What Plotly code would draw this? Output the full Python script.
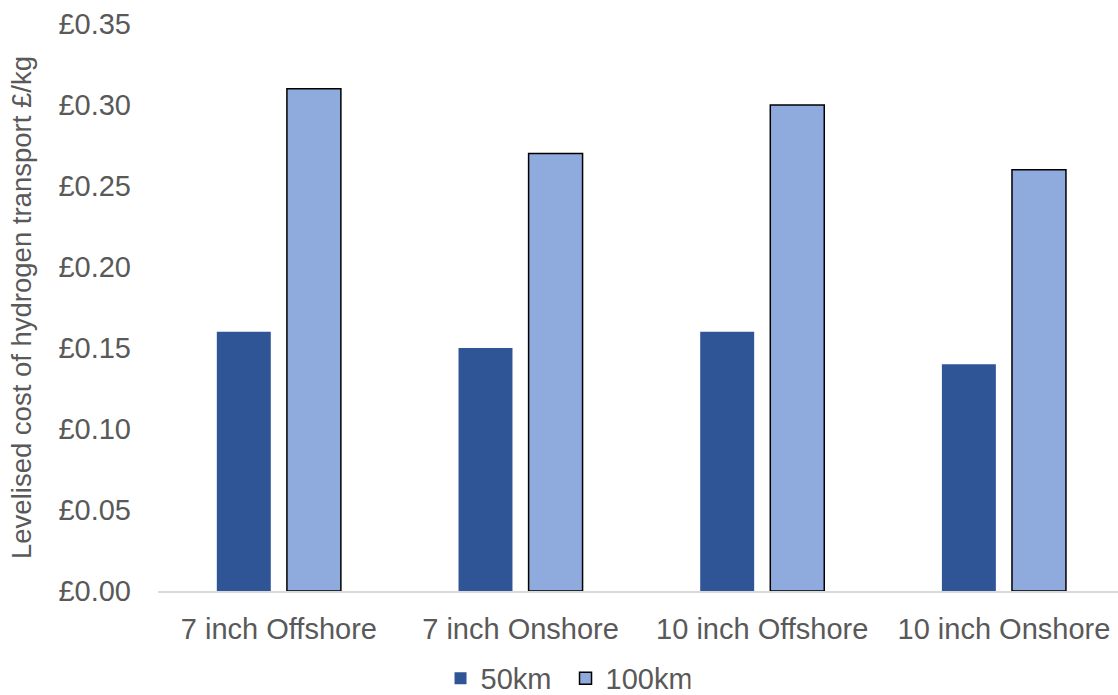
import plotly.graph_objects as go

categories = ["7 inch Offshore", "7 inch Onshore", "10 inch Offshore", "10 inch Onshore"]
series_names = ["50km", "100km"]
values_50km = [0.16, 0.15, 0.16, 0.14]
values_100km = [0.31, 0.27, 0.30, 0.26]
y_tick_vals = [0.00, 0.05, 0.10, 0.15, 0.20, 0.25, 0.30, 0.35]
y_tick_text = ["£0.00", "£0.05", "£0.10", "£0.15", "£0.20", "£0.25", "£0.30", "£0.35"]
y_title = "Levelised cost of hydrogen transport £/kg"

FONT = "Liberation Sans, Arial, sans-serif"
GRAY = "#595959"
FS = 29

fig = go.Figure()
fig.add_trace(go.Bar(
    x=categories, y=values_50km, name=series_names[0],
    marker=dict(color="#2F5597", line=dict(color="#2F5597", width=0)),
))
fig.add_trace(go.Bar(
    x=categories, y=values_100km, name=series_names[1],
    marker=dict(color="#8FAADC", line=dict(color="#000000", width=1.5)),
))

fig.update_layout(
    width=1118, height=695,
    margin=dict(l=158, r=0, t=24, b=104, autoexpand=False),
    paper_bgcolor="white", plot_bgcolor="white",
    barmode="group", bargap=0.42, bargroupgap=0.23,
    font=dict(family=FONT, size=FS, color=GRAY),
    showlegend=True,
    legend=dict(orientation="h", x=0.4245, xanchor="center",
                yref="container", y=0.024, yanchor="middle",
                entrywidth=80, entrywidthmode="pixels",
                font=dict(size=FS, color=GRAY), itemwidth=30, tracegroupgap=0),
    xaxis=dict(
        type="category", range=[-0.5, 3.472], automargin=False,
        showline=True, linecolor="#D9D9D9", linewidth=1.5,
        showgrid=False, ticks="", ticklabelstandoff=11,
        tickfont=dict(size=FS, color=GRAY),
    ),
    yaxis=dict(
        range=[0, 0.35], tickvals=y_tick_vals, ticktext=y_tick_text, automargin=False,
        showgrid=False, showline=False, zeroline=False, ticks="",
        ticklabelstandoff=26,
        tickfont=dict(size=FS, color=GRAY),
        title=dict(text=y_title, font=dict(size=27.5, color=GRAY), standoff=18),
    ),
)

fig.write_html("out.html")
